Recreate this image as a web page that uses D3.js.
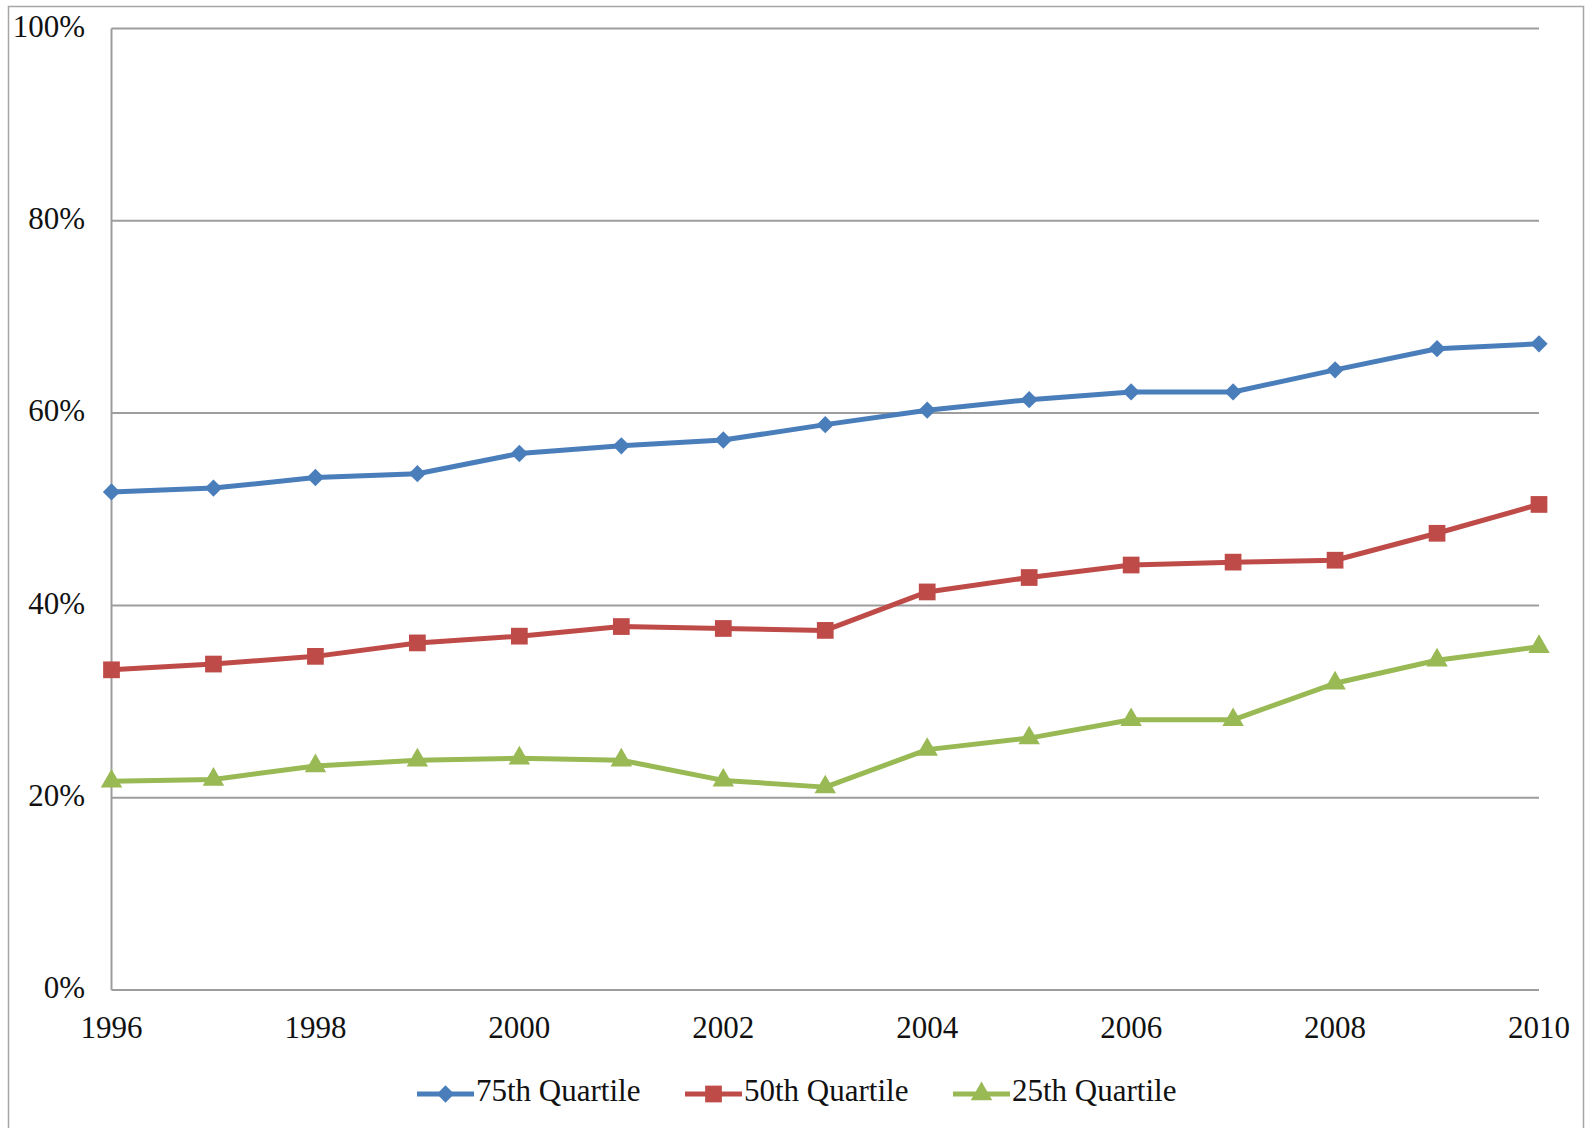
<!DOCTYPE html>
<html>
<head>
    <style>
        body {
            margin: 0;
            padding: 0;
            background-color: #fff;
        }
        svg text {
            font-family: "Liberation Serif", "Times New Roman", serif;
            font-size: 31px;
            fill: #111;
        }
    </style>
    <script src="https://d3js.org/d3.v7.min.js"></script>
</head>
<body>
<div id="chart"></div>
<script>
    // values (share of total, 0..1)
    var years = [1996, 1997, 1998, 1999, 2000, 2001, 2002, 2003, 2004, 2005, 2006, 2007, 2008, 2009, 2010];
    var q75 = [0.518, 0.522, 0.533, 0.537, 0.558, 0.566, 0.572, 0.588, 0.603, 0.614, 0.622, 0.622, 0.645, 0.667, 0.672];
    var q50 = [0.333, 0.339, 0.347, 0.361, 0.368, 0.378, 0.376, 0.374, 0.414, 0.429, 0.442, 0.445, 0.447, 0.475, 0.505];
    var q25 = [0.217, 0.219, 0.233, 0.239, 0.241, 0.239, 0.218, 0.211, 0.250, 0.262, 0.281, 0.281, 0.319, 0.343, 0.357];
    var seriesNames = ["75th Quartile", "50th Quartile", "25th Quartile"];
    var yTicks = [0, 0.2, 0.4, 0.6, 0.8, 1.0];
    var xTicks = [1996, 1998, 2000, 2002, 2004, 2006, 2008, 2010];

    var W = 1585, H = 1128;
    var margin = { top: 28.5, right: 46, bottom: 138, left: 111.5 };

    var svg = d3.select("#chart").append("svg")
        .attr("width", W)
        .attr("height", H);

    // outer chart border
    svg.append("rect")
        .attr("x", 8.5).attr("y", 6.5)
        .attr("width", 1575).attr("height", 1140)
        .attr("fill", "none")
        .attr("stroke", "#a6a6a6")
        .attr("stroke-width", 1.5);

    var x = d3.scaleLinear().domain([1996, 2010]).range([margin.left, W - margin.right]);
    var y = d3.scaleLinear().domain([0, 1]).range([H - margin.bottom, margin.top]);

    // gridlines
    svg.append("g").selectAll("line")
        .data(yTicks)
        .enter().append("line")
        .attr("x1", x(1996)).attr("x2", x(2010))
        .attr("y1", function(d) { return y(d); })
        .attr("y2", function(d) { return y(d); })
        .attr("stroke", "#9d9d9d")
        .attr("stroke-width", 2);

    // left axis line
    svg.append("line")
        .attr("x1", x(1996)).attr("x2", x(1996))
        .attr("y1", y(1)).attr("y2", y(0))
        .attr("stroke", "#9d9d9d")
        .attr("stroke-width", 2);

    // y labels
    svg.append("g").selectAll("text")
        .data(yTicks)
        .enter().append("text")
        .attr("x", 85)
        .attr("y", function(d) { return y(d) + 1; })
        .attr("text-anchor", "end")
        .attr("dominant-baseline", "middle")
        .text(d3.format(".0%"));

    // x labels
    svg.append("g").selectAll("text")
        .data(xTicks)
        .enter().append("text")
        .attr("x", function(d) { return x(d); })
        .attr("y", y(0) + 41)
        .attr("text-anchor", "middle")
        .attr("dominant-baseline", "middle")
        .text(function(d) { return d; });

    var colors = ["#4a7ebb", "#be4b48", "#98b954"];
    var symbols = [
        d3.symbol().type(d3.symbolSquare).size(150),
        d3.symbol().type(d3.symbolSquare).size(280),
        d3.symbol().type(d3.symbolTriangle).size(200)
    ];
    var rotations = [45, 0, 0];
    var allSeries = [q75, q50, q25];

    var line = d3.line()
        .x(function(d, i) { return x(years[i]); })
        .y(function(d) { return y(d); });

    allSeries.forEach(function(vals, s) {
        svg.append("path")
            .datum(vals)
            .attr("d", line)
            .attr("fill", "none")
            .attr("stroke", colors[s])
            .attr("stroke-width", 5)
            .attr("stroke-linejoin", "round");

        svg.append("g").selectAll("path")
            .data(vals)
            .enter().append("path")
            .attr("d", symbols[s])
            .attr("fill", colors[s])
            .attr("transform", function(d, i) {
                return "translate(" + x(years[i]) + "," + y(d) + ") rotate(" + rotations[s] + ")";
            });
    });

    // legend
    var legendX = [417, 685, 953];
    var legendY = 1094;
    var lg = svg.append("g").selectAll("g")
        .data(seriesNames)
        .enter().append("g")
        .attr("transform", function(d, i) { return "translate(" + legendX[i] + "," + legendY + ")"; });

    lg.append("line")
        .attr("x1", 0).attr("x2", 57)
        .attr("y1", 0).attr("y2", 0)
        .attr("stroke", function(d, i) { return colors[i]; })
        .attr("stroke-width", 5);

    lg.append("path")
        .attr("d", function(d, i) { return symbols[i](); })
        .attr("fill", function(d, i) { return colors[i]; })
        .attr("transform", function(d, i) { return "translate(28.5,0) rotate(" + rotations[i] + ")"; });

    lg.append("text")
        .attr("x", 59)
        .attr("y", 0)
        .attr("dominant-baseline", "middle")
        .text(function(d) { return d; });
</script>
</body>
</html>
